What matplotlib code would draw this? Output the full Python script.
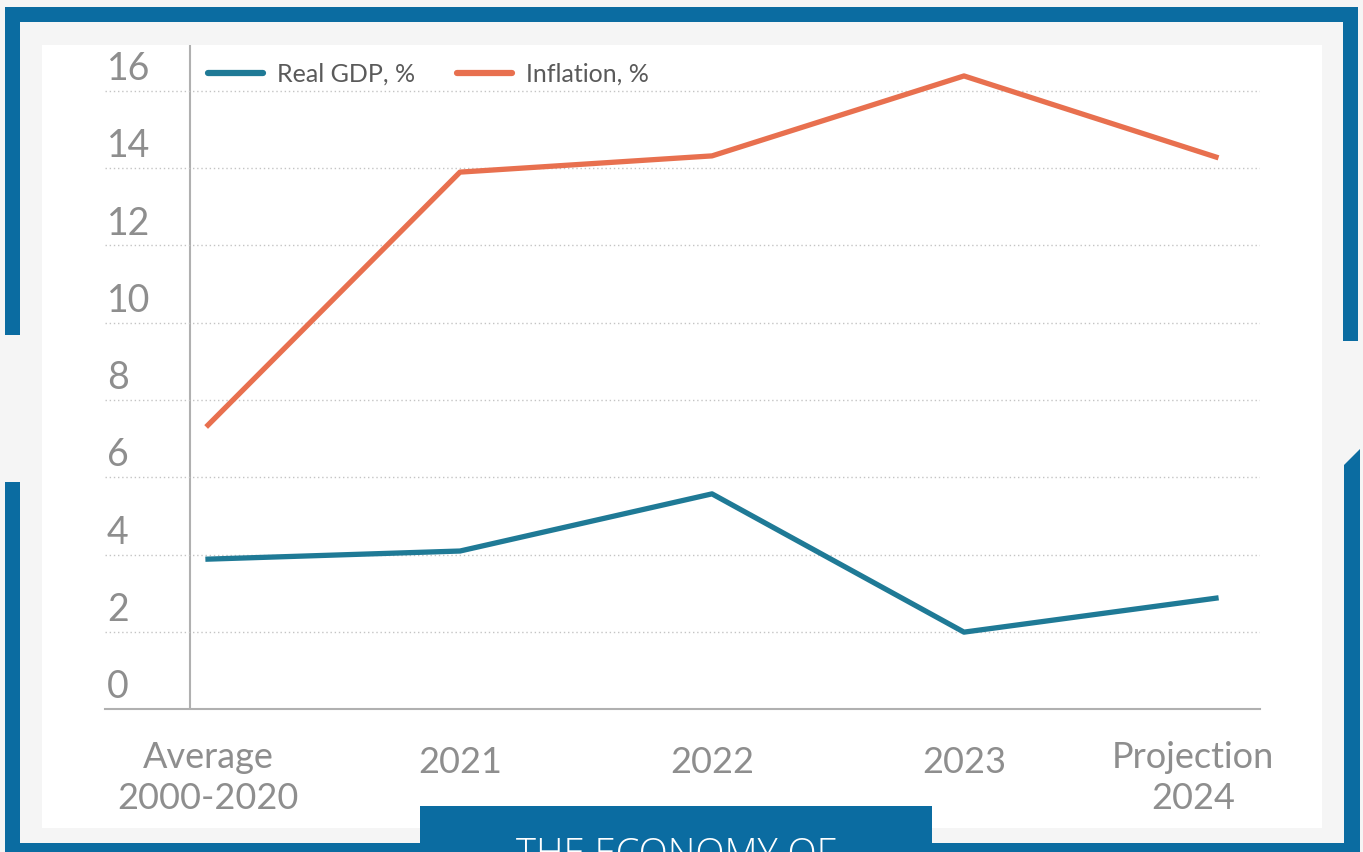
import matplotlib
matplotlib.use("Agg")
import matplotlib.pyplot as plt
from matplotlib.patches import Rectangle, Polygon

# Data
categories = ["Average\n2000-2020", "2021", "2022", "2023", "Projection\n2024"]
real_gdp = [3.88, 4.09, 5.57, 1.99, 2.87]
inflation = [7.35, 13.9, 14.32, 16.39, 14.29]
y_ticks = [0, 2, 4, 6, 8, 10, 12, 14, 16]

W, H = 1363, 852
BLUE = "#0b6ca1"
GDP_COLOR = "#1f7a96"
INF_COLOR = "#e8704f"
TEXT_GREY = "#8e8e8e"

plt.rcParams["font.family"] = ["Lato", "DejaVu Sans"]

fig = plt.figure(figsize=(W / 100, H / 100), dpi=100, facecolor="#f5f5f5")


def rect(x0, y0, x1, y1, color, z=0):
    # pixel box (y from top) -> figure patch
    fig.patches.append(Rectangle((x0 / W, 1 - y1 / H), (x1 - x0) / W, (y1 - y0) / H,
                                 transform=fig.transFigure, color=color, zorder=z,
                                 linewidth=0))


# frame
rect(5, 7, 1358, 22, BLUE)
rect(5, 7, 20, 335, BLUE)
rect(5, 482, 20, 852, BLUE)
rect(5, 843, 1358, 852, BLUE)
rect(1343, 7, 1358, 341, BLUE)
pts = [(1344, 465), (1360, 449), (1360, 852), (1344, 852)]
fig.patches.append(Polygon([(x / W, 1 - y / H) for x, y in pts], closed=True,
                           transform=fig.transFigure, color=BLUE, linewidth=0))
# white panel
rect(42, 45, 1322, 828, "white", z=1)

# axes
ax_left, ax_right, ax_top, ax_bottom = 105, 1260, 45, 709
ax = fig.add_axes([ax_left / W, 1 - ax_bottom / H, (ax_right - ax_left) / W,
                   (ax_bottom - ax_top) / H])
ax.set_facecolor("none")
ax.set_zorder(2)

step = 252
x = list(range(len(categories)))
ax.set_xlim((ax_left - 208) / step, (ax_right - 208) / step)
ax.set_ylim(0, (ax_bottom - ax_top) / 38.625)

ax.set_yticks(y_ticks[1:])
ax.yaxis.grid(True, linestyle=(0, (1, 2)), color="#c4c4c4", linewidth=1.0)
ax.set_xticks([])
ax.tick_params(left=False, labelleft=False)
for s in ["top", "right", "left"]:
    ax.spines[s].set_visible(False)
ax.spines["bottom"].set_color("#b0b0b0")
ax.spines["bottom"].set_linewidth(1.5)
ax.axvline((190 - 208) / step, color="#b0b0b0", lw=1.5, zorder=1)

ax.plot(x, real_gdp, color=GDP_COLOR, lw=3.8, label="Real GDP, %", zorder=3)
ax.plot(x, inflation, color=INF_COLOR, lw=3.8, label="Inflation, %", zorder=3)

# y labels above gridlines
for v in y_ticks:
    ax.text((107 - 208) / step, v + 0.1, str(v), ha="left", va="bottom",
            fontsize=27, color=TEXT_GREY)

# x labels (single-line ones sit a bit lower, like the source's old-style digits)
xt = ax.get_xaxis_transform()
label_x = [0, 1, 2, 3, (1193 - 208) / step]
for xi, lab in zip(label_x, categories):
    top = 741 if "\n" in lab else 746
    ax.text(xi, -(top - ax_bottom) / (ax_bottom - ax_top), lab, transform=xt,
            ha="center", va="top", fontsize=26, color=TEXT_GREY,
            linespacing=1.3)

leg = ax.legend(loc="center left", bbox_to_anchor=(208 / W, 1 - 74 / H),
                bbox_transform=fig.transFigure, ncol=2, frameon=False,
                fontsize=18, handlelength=2.2, handletextpad=0.55,
                columnspacing=1.7, borderpad=0, borderaxespad=0)
for t in leg.get_texts():
    t.set_color("#5a5a5a")
for h in leg.get_lines():
    h.set_linewidth(4.5)
    h.set_solid_capstyle("round")

# bottom title box (cut off at the bottom edge, as in the source)
fig.patches.append(Rectangle((420 / W, 0), (932 - 420) / W, (852 - 806) / H,
                             transform=fig.transFigure, color=BLUE, zorder=5,
                             linewidth=0))
fig.text(676 / W, 1 - 837 / H, "THE ECONOMY OF", ha="center", va="top",
         fontsize=27.5, color="white", fontweight="light", zorder=6,
         family=["Open Sans", "DejaVu Sans"])

fig.savefig("out.png", dpi=100, facecolor=fig.get_facecolor())
